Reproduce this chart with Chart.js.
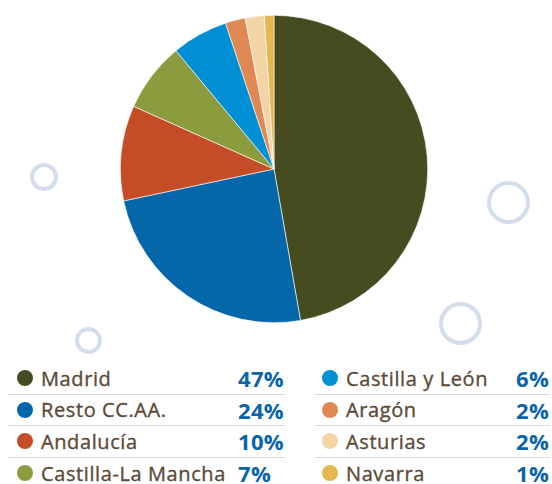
<!DOCTYPE html>
<html>
<head>
<meta charset="utf-8">
<script src="https://cdn.jsdelivr.net/npm/chart.js@4"></script>
<style>
  html, body { margin: 0; padding: 0; background: #fff; }
  #wrap { position: relative; width: 552px; height: 484px; overflow: hidden; font-family: "Open Sans", sans-serif; }
  .ring { position: absolute; border: 4px solid #d3ddec; border-radius: 50%; box-sizing: border-box; }
  #pie-box { position: absolute; left: 120px; top: 15px; width: 308px; height: 308px; }
  .col { position: absolute; top: 363px; }
  .row { display: flex; align-items: center; height: 31.5px; box-sizing: border-box; border-bottom: 1px solid #d9d9d9; }
  .row:last-child { border-bottom: none; }
  .dot { width: 16px; height: 16px; border-radius: 50%; flex: none; }
  .lbl { color: #5b4a37; font-size: 20px; letter-spacing: 0.6px; -webkit-text-stroke: 0.35px #5b4a37; margin-left: 8px; flex: 1; white-space: nowrap; }
  .pct { color: #0b64a8; font-size: 22px; font-weight: bold; letter-spacing: 0.3px; white-space: nowrap; text-align: left; flex: none; }
</style>
</head>
<body>
<div id="wrap">
  <div class="ring" style="left:30px;top:163px;width:28px;height:28px;"></div>
  <div class="ring" style="left:75px;top:327px;width:27px;height:27px;"></div>
  <div class="ring" style="left:487px;top:181px;width:43px;height:43px;"></div>
  <div class="ring" style="left:439px;top:302px;width:43px;height:43px;"></div>
  <div id="pie-box"><canvas id="pie"></canvas></div>
  <div class="col" id="legend-left" style="left:8px;width:277px;"></div>
  <div class="col" id="legend-right" style="left:315px;width:235px;"></div>
</div>
<script>
// Regions and their share (%)
const regiones = [
  "Madrid",
  "Resto CC.AA.",
  "Andalucía",
  "Castilla-La Mancha",
  "Castilla y León",
  "Aragón",
  "Asturias",
  "Navarra",
];
const porcentajes = [47.2, 24.4, 10.0, 7.3, 5.9, 2.1, 2.0, 1.0];
const colores = [
  "#474c20",
  "#0367a9",
  "#c44c27",
  "#8c9b3d",
  "#008fd3",
  "#e08853",
  "#f3d5a5",
  "#e2b84f",
];

function buildLegend() {
  const left = document.getElementById("legend-left");
  const right = document.getElementById("legend-right");
  regiones.forEach((nombre, i) => {
    const isLeft = i < 4;
    const row = document.createElement("div");
    row.className = "row";
    row.innerHTML = `
      <span class="dot" style="background:${colores[i]};margin-left:${isLeft ? 9 : 7}px"></span>
      <span class="lbl">${nombre}</span>
      <span class="pct" style="width:${isLeft ? 47 : 34}px">${Math.round(porcentajes[i])}%</span>`;
    (isLeft ? left : right).appendChild(row);
  });
}

function initPie() {
  const ctx = document.getElementById("pie");
  new Chart(ctx, {
    type: "pie",
    data: {
      labels: regiones,
      datasets: [
        {
          data: porcentajes,
          backgroundColor: colores,
          borderColor: "#ffffff",
          borderWidth: 0.6,
        },
      ],
    },
    options: {
      responsive: true,
      maintainAspectRatio: false,
      animation: false,
      events: [],
      layout: { padding: 0 },
      plugins: {
        legend: { display: false },
        tooltip: { enabled: false },
      },
    },
  });
}

buildLegend();
initPie();
</script>
</body>
</html>
